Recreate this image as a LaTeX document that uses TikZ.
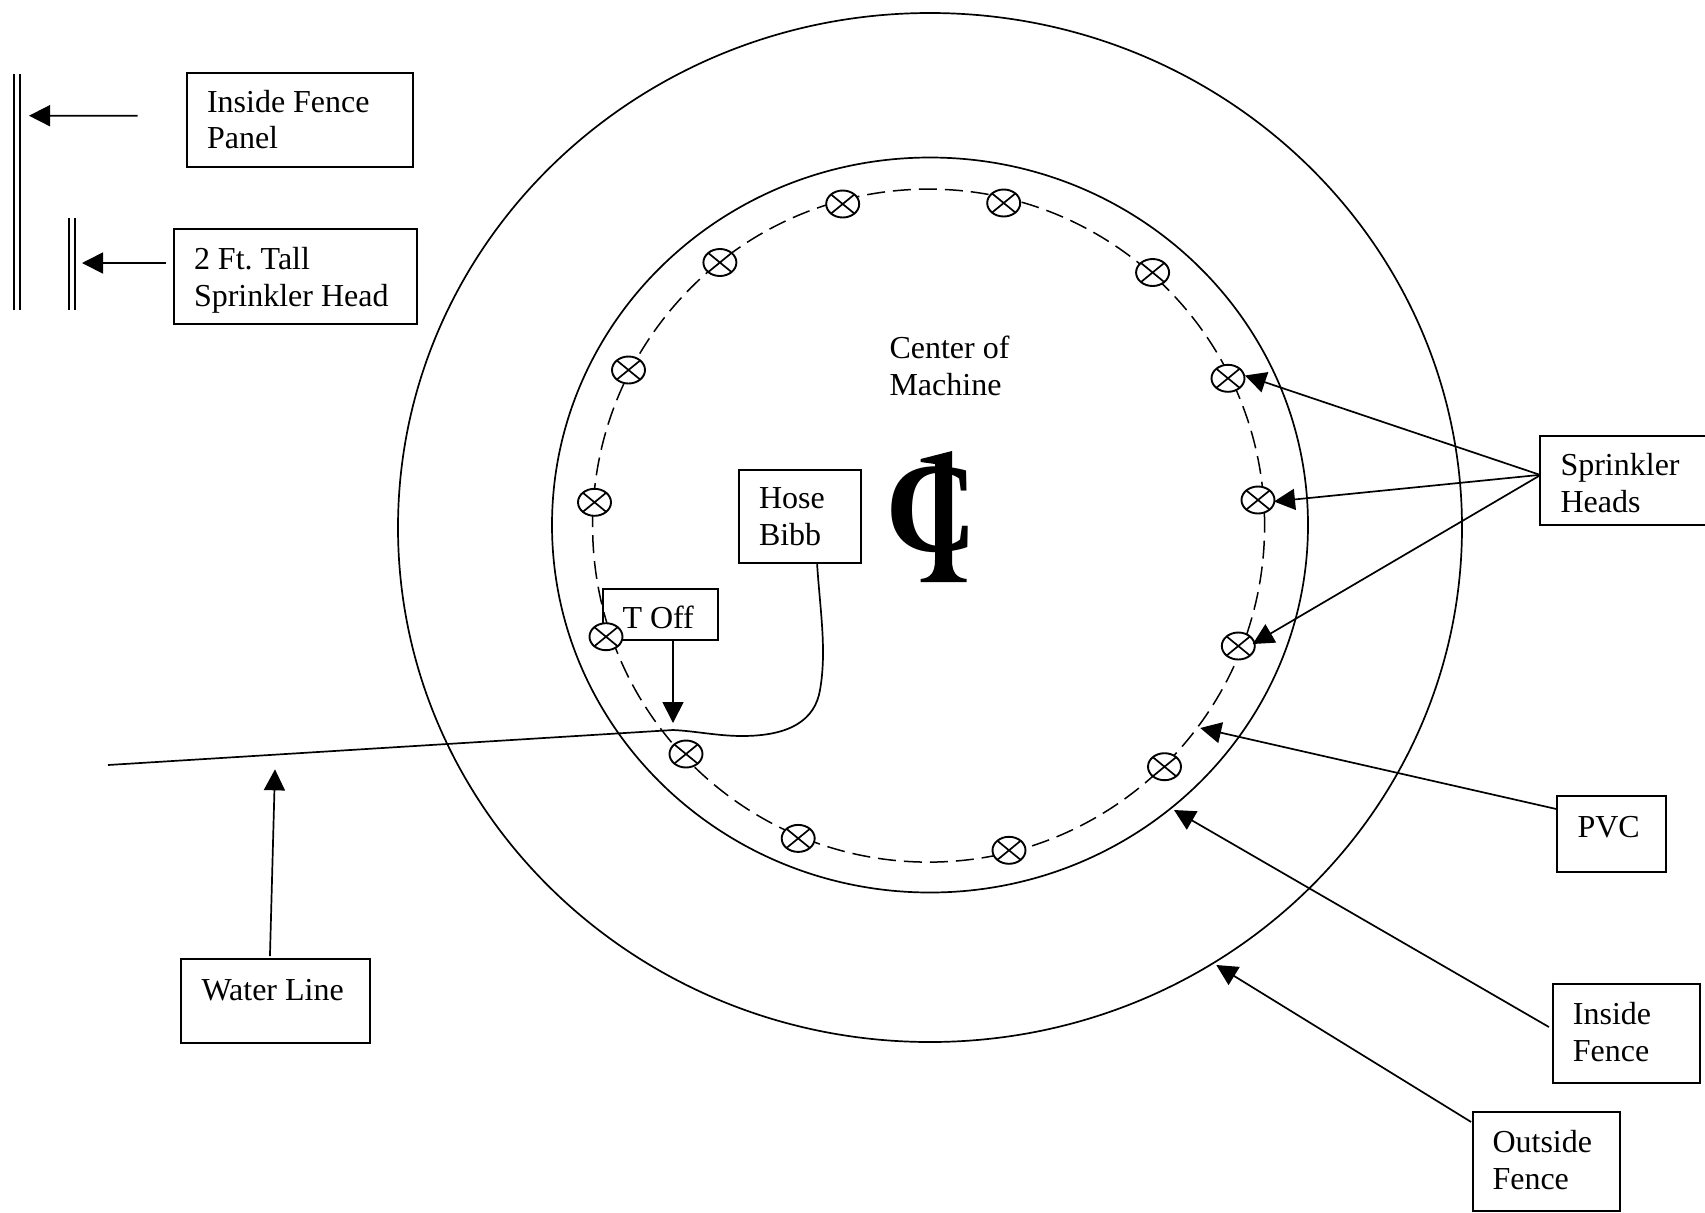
\documentclass[tikz,border=0pt]{standalone}
\usepackage{fontspec}
\setmainfont{Liberation Serif}
\usetikzlibrary{arrows.meta,shapes.geometric}
\frenchspacing
\newcommand{\firstline}{\rule{0pt}{10pt}}
% name, style, x, y, w, h, left pad, baseline offset (all px), text
\newcommand{\tbox}[9]{\node[#2,anchor=north west,inner sep=0pt,outer sep=0pt] (#1) at (#3+0.5,#4+0.5)
  {\parbox[t][\dimexpr (#6pt-1pt)/2\relax][t]{\dimexpr (#5pt-1pt)/2\relax}{\frenchspacing\leftskip=\dimexpr #7pt/2\relax\rightskip=0pt plus 1fil\parindent=0pt\baselineskip=18.4pt\vspace*{\dimexpr #8pt/2-10.5pt\relax}\firstline #9}};}
\tikzset{
  line/.style={line width=0.85pt,black},
  labelbox/.style={draw,line width=1pt},
  plainlabel/.style={draw=none},
  fence/.style={line,line width=0.85pt},
  pvcring/.style={line,line width=0.75pt,dash pattern=on 9pt off 4pt},
  arrowline/.style={line,-{Triangle[length=10.5pt,width=10.5pt]}},
  head/.style={ellipse,draw,line width=0.95pt,fill=white,minimum width=16.5pt,minimum height=13.5pt,inner sep=0pt,
    path picture={\draw[line width=0.85pt] (path picture bounding box.north west)--(path picture bounding box.south east)
      (path picture bounding box.north east)--(path picture bounding box.south west);}},
}
\begin{document}
\begin{tikzpicture}[x=0.5pt,y=-0.5pt,font=\fontsize{16pt}{18.4pt}\selectfont]
\useasboundingbox (0,0) rectangle (1705,1212);
% fences
\draw[fence] (930,527.5) ellipse [x radius=266pt,y radius=257.25pt];
\draw[fence] (930,525) ellipse [x radius=189pt,y radius=183.75pt];
% boxes and labels
\tbox{ifp}{labelbox}{186}{72}{227}{95}{20.5}{38.3}{Inside Fence\\Panel}
\tbox{sfh}{labelbox}{173}{228}{244}{96}{20.5}{39.5}{2 Ft. Tall\\Sprinkler Head}
\tbox{hb}{labelbox}{738}{469}{123}{94}{20.5}{39}{Hose\\Bibb}
\tbox{tf}{labelbox}{602}{588}{116}{52}{20}{38.7}{T Off}
\tbox{sh}{labelbox}{1539.5}{435.7}{168}{89.3}{20.5}{38.3}{Sprinkler\\Heads}
\tbox{pvc}{labelbox}{1556.6}{795}{110}{77}{20.4}{42}{PVC}
\tbox{inf}{labelbox}{1552.8}{983}{148}{100}{19.6}{39.7}{Inside\\Fence}
\tbox{of}{labelbox}{1472.6}{1111.7}{148}{99.5}{19.4}{39}{Outside\\Fence}
\tbox{wl}{labelbox}{180}{958.7}{190.7}{84.3}{21}{40.6}{Water Line}
\tbox{com}{plainlabel}{889}{320}{130}{85}{0}{36.3}{Center of\\Machine}
% PVC ring
\draw[pvcring] (928.6,525.6) ellipse [x radius=168pt,y radius=168.25pt];
% sprinkler heads
\node[head] (h1) at (842.7,204) {};
\node[head] (h2) at (1003.7,203) {};
\node[head] (h3) at (1152.6,272.5) {};
\node[head] (h4) at (1228,378.3) {};
\node[head] (h5) at (1258,500) {};
\node[head] (h6) at (1238.3,646) {};
\node[head] (h7) at (1164.5,766.7) {};
\node[head] (h8) at (1009,850.3) {};
\node[head] (h9) at (798.2,838.4) {};
\node[head] (h10) at (686,754) {};
\node[head] (h11) at (606,636.7) {};
\node[head] (h12) at (594.5,502.3) {};
\node[head] (h13) at (628.5,370) {};
\node[head] (h14) at (719.9,262.5) {};
% centre-line mark
\node[anchor=base west,inner sep=0pt,font=\fontsize{64pt}{64pt}\selectfont\bfseries] (cl) at (885,551.5) {C};
\fill (952,451) -- (952,560) .. controls (952,572) and (956,578) .. (966.7,579) -- (966.7,582) -- (920.7,582) -- (920.7,579)
  .. controls (931,578) and (935,572) .. (935,560) -- (935,464) -- (920.7,462) -- (920.7,459) -- cycle;
% arrow tips and free ends
\coordinate (tipA) at (29,115.7);
\coordinate (tipB) at (82,263);
\coordinate (tipC) at (1245,375.5);
\coordinate (tipD) at (1274,501.5);
\coordinate (tipE) at (1252.7,644);
\coordinate (tipF) at (1200.2,728);
\coordinate (tipG) at (1174,810);
\coordinate (tipH) at (1216.3,965);
\coordinate (tipI) at (275,769.3);
\coordinate (tipJ) at (673,723);
\coordinate (wlS) at (108,765);
\coordinate (wlT) at (673,730);
% panel symbols
\coordinate (pA1) at (14,74); \coordinate (pA2) at (14,310);
\coordinate (pB1) at (20,74); \coordinate (pB2) at (20,310);
\coordinate (pC1) at (69,218); \coordinate (pC2) at (69,310);
\coordinate (pD1) at (75,218); \coordinate (pD2) at (75,310);
\draw[line] (pA1)--(pA2) (pB1)--(pB2) (pC1)--(pC2) (pD1)--(pD2);
% connectors
\draw[arrowline] ([shift={(-24.5pt,1.9pt)}]ifp.west) -- (tipA);
\draw[arrowline] ([shift={(-4pt,6.5pt)}]sfh.west) -- (tipB);
\draw[arrowline] ([yshift=2.75pt]sh.west) -- (tipC);
\draw[arrowline] ([yshift=2.75pt]sh.west) -- (tipD);
\draw[arrowline] ([yshift=2.5pt]sh.west) -- (tipE);
\draw[arrowline] ([shift={(-0.4pt,12.25pt)}]pvc.west) -- (tipF);
\draw[arrowline] ([shift={(-2.2pt,3pt)}]inf.west) -- (tipG);
\draw[arrowline] ([shift={(-1pt,19.75pt)}]of.west) -- (tipH);
\draw[arrowline] ([shift={(-2.7pt,1.5pt)}]wl.north) -- (tipI);
\draw[arrowline] ([xshift=6.5pt]tf.south) -- (tipJ);
% water line and hose bibb feed
\draw[line] (wlS) -- (wlT) .. controls (695,731) and (718,736) .. (742,736)
  .. controls (790,736) and (815,720) .. (820,690)
  .. controls (827,650) and (820,610) .. ([xshift=8.75pt]hb.south);
\end{tikzpicture}
\end{document}
